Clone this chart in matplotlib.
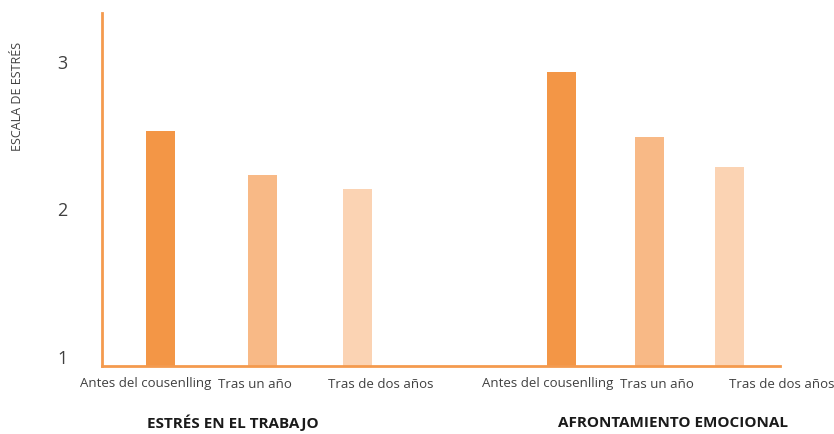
import matplotlib.pyplot as plt
from matplotlib.transforms import blended_transform_factory

# Data
groups = ['ESTRÉS EN EL TRABAJO', 'AFRONTAMIENTO EMOCIONAL']
categories = ['Antes del cousenlling', 'Tras un año', 'Tras de dos años']
trabajo = [2.53, 2.23, 2.14]
afrontamiento = [2.93, 2.49, 2.29]

# Layout (x in axis units)
bar_x = [58, 160, 255, 459.5, 547.5, 627]
label_x = [44, 153, 279, 446, 555, 680]
group_x = [131, 571]
colors = ['#F39646', '#F8B986', '#FBD3B3']
axis_color = '#F49A4E'
text_color = '#404040'

plt.rcParams['font.family'] = ['Open Sans', 'DejaVu Sans']

fig = plt.figure(figsize=(8.34, 4.34), dpi=100)
ax = fig.add_axes([102 / 834, 68 / 434, 678 / 834, 353 / 434])

values = trabajo + afrontamiento
base = 0.94
ax.bar(bar_x, [v - base for v in values], bottom=base, width=29,
       color=colors * 2, zorder=2)

ax.set_xlim(0, 678)
ax.set_ylim(base, 3.33)
ax.set_xticks([])
ax.set_yticks([1, 2, 3])
ax.set_yticklabels(['1', '2', '3'], fontsize=13, color=text_color)
ax.tick_params(axis='y', length=0, pad=25)

for s in ['top', 'right']:
    ax.spines[s].set_visible(False)
for s in ['left', 'bottom']:
    ax.spines[s].set_color(axis_color)
    ax.spines[s].set_linewidth(2)

trans = blended_transform_factory(ax.transData, fig.transFigure)
for x, lab in zip(label_x, categories * 2):
    ax.text(x, 1 - 384 / 434, lab, transform=trans, ha='center', va='center',
            fontsize=9.5, color=text_color, clip_on=False)
for x, g in zip(group_x, groups):
    ax.text(x, 1 - 423 / 434, g, transform=trans, ha='center', va='center',
            fontsize=11, fontweight='bold', color='#1a1a1a', clip_on=False)

fig.text(18 / 834, 1 - 96 / 434, 'ESCALA DE ESTRÉS', rotation=90,
         ha='center', va='center', fontsize=9, color=text_color)

fig.savefig('out.png', dpi=100)
